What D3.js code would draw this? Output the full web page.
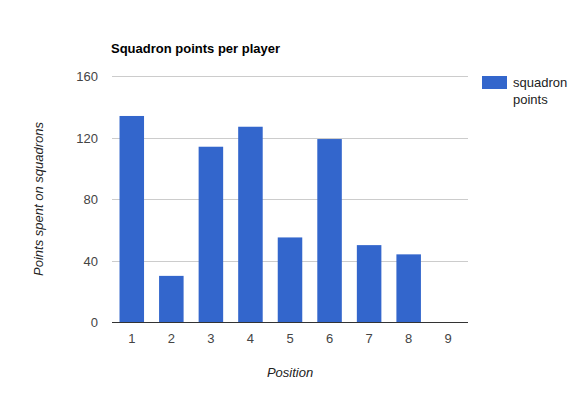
<!DOCTYPE html>
<html>
<head>
<meta charset="utf-8">
<script src="https://cdn.jsdelivr.net/npm/d3@7"></script>
<style>
  body { margin: 0; background: #fff; }
  svg { font-family: "Liberation Sans", Arial, sans-serif; }
</style>
</head>
<body>
<div class="chart"></div>
<script>
// data
const positions = ["1", "2", "3", "4", "5", "6", "7", "8", "9"];
const squadronPoints = [134, 30, 114, 127, 55, 119, 50, 44, 0];
const yTicks = [0, 40, 80, 120, 160];

const width = 580;
const height = 399;
const margin = {top: 76, right: 112, bottom: 77, left: 112};

const svg = d3.select(".chart")
  .append("svg")
  .attr("width", width)
  .attr("height", height);

const x = d3.scaleBand()
  .domain(positions)
  .range([margin.left, width - margin.right])
  .paddingInner(0.38)
  .paddingOuter(0.19);

const y = d3.scaleLinear()
  .domain([0, 160])
  .range([height - margin.bottom, margin.top]);

// gridlines
svg.append("g")
  .selectAll("line")
  .data(yTicks)
  .join("line")
  .attr("x1", margin.left)
  .attr("x2", width - margin.right)
  .attr("y1", d => Math.round(y(d)) + 0.5)
  .attr("y2", d => Math.round(y(d)) + 0.5)
  .attr("stroke", "#cccccc");

// y tick labels
svg.append("g")
  .selectAll("text")
  .data(yTicks)
  .join("text")
  .attr("x", 98)
  .attr("y", d => y(d) + 5)
  .attr("text-anchor", "end")
  .attr("font-size", 13)
  .attr("fill", "#444")
  .text(d => d);

// bars
svg.append("g")
  .attr("fill", "#3366cc")
  .selectAll("rect")
  .data(squadronPoints)
  .join("rect")
  .attr("x", (d, i) => x(positions[i]))
  .attr("y", d => y(d))
  .attr("width", x.bandwidth())
  .attr("height", d => y(0) - y(d));

// baseline
svg.append("line")
  .attr("x1", margin.left)
  .attr("x2", width - margin.right)
  .attr("y1", Math.round(y(0)) + 0.5)
  .attr("y2", Math.round(y(0)) + 0.5)
  .attr("stroke", "#333");

// x tick labels
svg.append("g")
  .selectAll("text")
  .data(positions)
  .join("text")
  .attr("x", d => x(d) + x.bandwidth() / 2)
  .attr("y", y(0) + 21)
  .attr("text-anchor", "middle")
  .attr("font-size", 13)
  .attr("fill", "#444")
  .text(d => d);

// title
svg.append("text")
  .attr("x", 111)
  .attr("y", 53)
  .attr("font-size", 13)
  .attr("font-weight", "bold")
  .attr("fill", "#000")
  .text("Squadron points per player");

// axis titles
svg.append("text")
  .attr("x", (margin.left + width - margin.right) / 2)
  .attr("y", 377)
  .attr("text-anchor", "middle")
  .attr("font-size", 13)
  .attr("font-style", "italic")
  .attr("fill", "#222")
  .text("Position");

svg.append("text")
  .attr("transform", `translate(43, ${(margin.top + height - margin.bottom) / 2}) rotate(-90)`)
  .attr("text-anchor", "middle")
  .attr("font-size", 13)
  .attr("font-style", "italic")
  .attr("fill", "#222")
  .text("Points spent on squadrons");

// legend
const legend = svg.append("g").attr("transform", "translate(482, 76)");
legend.append("rect")
  .attr("width", 25)
  .attr("height", 13)
  .attr("fill", "#3366cc");
legend.append("text")
  .attr("x", 31)
  .attr("y", 11)
  .attr("font-size", 13)
  .attr("fill", "#222")
  .text("squadron");
legend.append("text")
  .attr("x", 31)
  .attr("y", 28)
  .attr("font-size", 13)
  .attr("fill", "#222")
  .text("points");
</script>
</body>
</html>
